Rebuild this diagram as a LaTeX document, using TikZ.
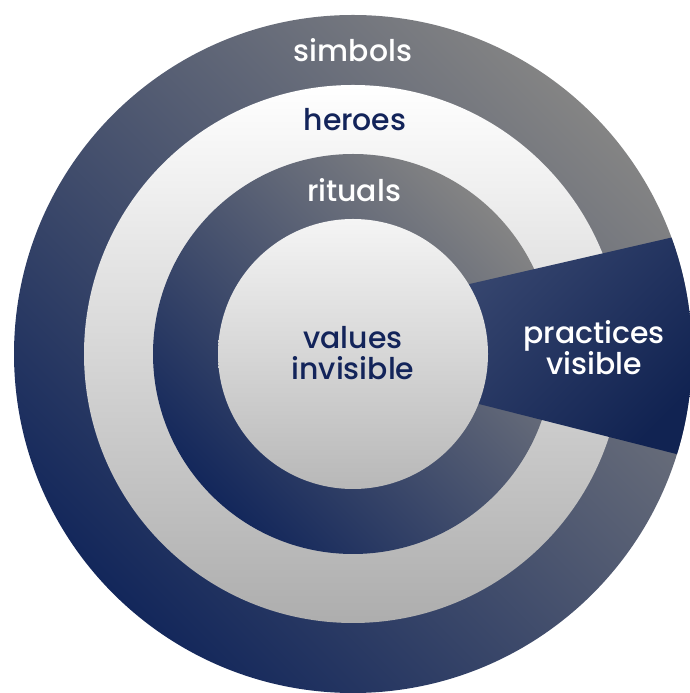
\documentclass[tikz,border=0pt]{standalone}
\usepackage{fontspec}
\newfontfamily\tagfont{Poppins Medium}
\definecolor{navy}{HTML}{13275B}
\definecolor{ash}{HTML}{848484}
\definecolor{ink}{HTML}{13245A}
\definecolor{slab}{HTML}{3B4A72}
\begin{document}
\begin{tikzpicture}[x=1bp,y=1bp,
		ring/.style={top color=ash,bottom color=navy,shading angle=-45},
		pale/.style={top color=white,bottom color=black!32},
		core/.style={top color=white!96!black,bottom color=black!28},
		wedge/.style={top color=slab,bottom color=navy!90!black,shading angle=45},
		tag/.style={font=\tagfont\fontsize{30}{31}\selectfont,align=center,text=#1}]
		\useasboundingbox (0,0) rectangle (690,693);
		\clip (0,0) rectangle (690,693);
		\coordinate (c) at (353,339);
		% layers, outside in
		\shade[ring] (c) circle[radius=339];
		\shade[pale] (c) circle[radius=269];
		\shade[ring] (c) circle[radius=200];
		\begin{scope}
			\clip (c) circle[radius=339];
			\shade[wedge] (400,393) -- (700,462) -- (700,233) -- (400,309) -- cycle;
		\end{scope}
		\shade[core] (c) circle[radius=135];
		% labels
		\node[tag=white] (simbols) at (353,643) {simbols};
		\node[tag=ink] (heroes) at (355,573) {heroes};
		\node[tag=white] (rituals) at (354,503) {rituals};
		\node[tag=ink] (values) at (353,340) {values\\invisible};
		\node[tag=white] (practices) at (594,345) {practices\\visible};
	\end{tikzpicture}
\end{document}
